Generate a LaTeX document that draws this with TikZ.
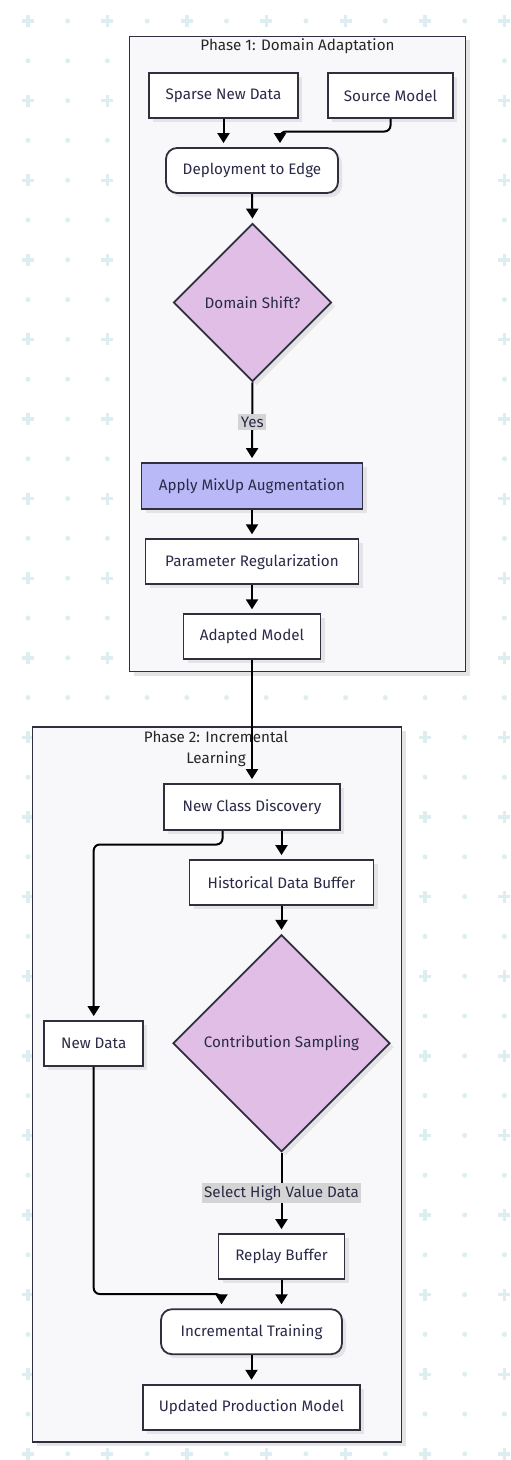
\documentclass[tikz,border=0pt]{standalone}
\usepackage{fontspec}
\setmainfont{Fira Sans}
\usetikzlibrary{shapes.geometric,arrows.meta,shadows,calc}
\definecolor{bord}{HTML}{2F2F40}
\definecolor{txt}{HTML}{2A2A48}
\definecolor{clfill}{HTML}{F8F8FB}
\definecolor{diafill}{HTML}{E0BEE6}
\definecolor{mixfill}{HTML}{B9B9F7}
\definecolor{lblfill}{HTML}{D4D4D4}
\definecolor{patt}{HTML}{DCEEF2}
\definecolor{shad}{HTML}{E4E4E6}
\tikzset{
  base/.style={draw=bord, line width=1.8pt, text=txt, font=\fontsize{15.2}{18}\selectfont,
    inner sep=0pt, align=center,
    drop shadow={shadow xshift=4pt, shadow yshift=-4pt, fill=shad, opacity=1}},
  box/.style={base, rectangle, fill=white, minimum height=45pt},
  rbox/.style={box, rounded corners=11pt},
  dia/.style={base, diamond, fill=diafill, aspect=1},
  arr/.style={draw=black, line width=2pt, -{Triangle[width=12pt,length=10pt]}, shorten >=4pt, rounded corners=6pt},
  lbl/.style={fill=lblfill, text=txt, font=\fontsize{15.2}{18}\selectfont, inner sep=2.5pt, sharp corners},
  cluster/.style={draw=bord, line width=1.8pt, fill=clfill},
  ctitle/.style={text=black!85, font=\fontsize{15.2}{18}\selectfont, align=center, inner sep=0pt}
}
\begin{document}
\begin{tikzpicture}[x=1pt,y=-1pt]
\useasboundingbox (0,0) rectangle (511,1460);
\fill[white] (0,0) rectangle (511,1460);
% background pattern
\foreach \i in {0,...,12}{
  \foreach \j in {0,...,36}{
    \pgfmathtruncatemacro{\kind}{mod(\i,2)+mod(\j,2)}
    \pgfmathsetmacro{\px}{28+39.7*\i}
    \pgfmathsetmacro{\py}{21+39.8*\j}
    \ifnum\kind=0
      \fill[patt] (\px-6,\py-1.7) rectangle (\px+6,\py+1.7);
      \fill[patt] (\px-1.7,\py-6) rectangle (\px+1.7,\py+6);
    \else
      \fill[patt] (\px,\py) circle (2.5);
    \fi
  }
}
% clusters
\fill[shad] (133.5,40) rectangle (469.5,675.5);
\draw[cluster] (129.5,36.5) rectangle (465.5,671.5);
\node[ctitle] (t1) at (297.5,46.5) {Phase 1: Domain Adaptation};
\fill[shad] (36.5,731) rectangle (405.5,1446);
\draw[cluster] (32.5,727) rectangle (401.5,1442);
\node[ctitle] (t2) at (216,748.5) {Phase 2: Incremental\\[3pt]Learning};
% nodes
\node[box, minimum width=149pt] (sparse) at (223.5,95.5) {Sparse New Data};
\node[box, minimum width=125pt] (source) at (390.5,95.5) {Source Model};
\node[rbox, minimum width=172pt] (deploy) at (252,170.5) {Deployment to Edge};
\node[dia, minimum width=158pt, minimum height=158pt] (shift) at (252.5,302.5) {Domain Shift?};
\node[box, fill=mixfill, minimum width=221pt, minimum height=46pt] (mixup) at (252,486) {Apply MixUp Augmentation};
\node[box, minimum width=213pt] (param) at (252,561.7) {Parameter Regularization};
\node[box, minimum width=137pt] (adapted) at (252,636.7) {Adapted Model};
\node[box, minimum width=176pt, minimum height=46pt] (ncd) at (252,807) {New Class Discovery};
\node[box, minimum width=184pt] (hdb) at (281.5,882.5) {Historical Data Buffer};
\node[dia, minimum width=217pt, minimum height=217pt] (samp) at (281.5,1043.3) {Contribution Sampling};
\node[box, minimum width=99pt] (newdata) at (93.7,1043.5) {New Data};
\node[box, minimum width=126pt] (replay) at (281.5,1256.5) {Replay Buffer};
\node[rbox, minimum width=181pt] (inc) at (251.5,1331.7) {Incremental Training};
\node[box, minimum width=217pt] (upm) at (251.5,1407.2) {Updated Production Model};
% junction coordinates
\coordinate (j1) at (280,131.5);
\coordinate (j2) at (222.5,844.5);
\coordinate (j3) at (221.5,1294);
% connectors
\draw[arr] (sparse.south) -- (sparse.south |- deploy.north);
\draw[arr] (source.south) |- (j1) -- (j1 |- deploy.north);
\draw[arr] (deploy.south) -- (shift.north);
\draw[arr] (shift.south) -- node[lbl] (yes) {Yes} (mixup.north);
\draw[arr] (mixup.south) -- (param.north);
\draw[arr] (param.south) -- (adapted.north);
\draw[arr] (adapted.south) -- (ncd.north);
\draw[arr] (j2 |- ncd.south) -- (j2) -| (newdata.north);
\draw[arr] (hdb.north |- ncd.south) -- (hdb.north);
\draw[arr] (hdb.south) -- (samp.north);
\draw[arr] (samp.south) -- node[lbl] (sel) {Select High Value Data} (replay.north);
\draw[arr] (newdata.south) |- (j3) -- (j3 |- inc.north);
\draw[arr] (replay.south) -- (replay.south |- inc.north);
\draw[arr] (inc.south) -- (upm.north);
\end{tikzpicture}
\end{document}
